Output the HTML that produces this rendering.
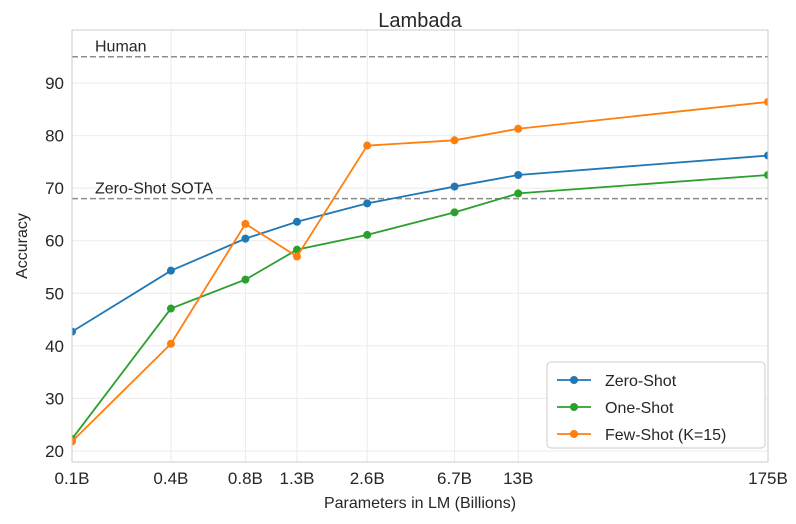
<!DOCTYPE html>
<html><head><meta charset="utf-8"><style>
body{margin:0;background:#fff;}
svg text{font-family:"Liberation Sans",Arial,sans-serif;fill:#262626;}
</style></head><body>
<svg id="chart" width="796" height="519" viewBox="0 0 796 519" xmlns="http://www.w3.org/2000/svg">
<defs><clipPath id="pc"><rect x="72" y="30" width="696" height="432"/></clipPath></defs>
<rect x="0" y="0" width="796" height="519" fill="#fff"/>
<g id="grid"></g>
<g id="refs"></g>
<g id="series" clip-path="url(#pc)"></g>
<g id="axes"></g>
<text x="420" y="27" font-size="20" text-anchor="middle">Lambada</text>
<text x="420" y="508" font-size="16" text-anchor="middle">Parameters in LM (Billions)</text>
<text x="27" y="246" font-size="16" text-anchor="middle" transform="rotate(-90 27 246)">Accuracy</text>
<g id="legend"></g>
</svg>
<script>
const params = [0.125, 0.35, 0.76, 1.3, 2.7, 6.7, 13, 175];
const tickLabels = ["0.1B","0.4B","0.8B","1.3B","2.6B","6.7B","13B","175B"];
const zeroShot = [42.7, 54.3, 60.4, 63.6, 67.1, 70.3, 72.5, 76.2];
const oneShot = [22.3, 47.1, 52.6, 58.3, 61.1, 65.4, 69.0, 72.5];
const fewShot = [21.8, 40.4, 63.2, 57.0, 78.1, 79.1, 81.3, 86.4];
const yTicks = [20,30,40,50,60,70,80,90];
const humanLevel = 95;
const sotaLevel = 68;

const NS="http://www.w3.org/2000/svg";
const L=72,R=768,T=30,B=462;
const lmin=Math.log10(params[0]),lmax=Math.log10(params[params.length-1]);
const xs=p=>L+(Math.log10(p)-lmin)/(lmax-lmin)*(R-L);
const ys=v=>451-(v-20)*(451-83)/70;
function mk(tag,attrs,parent,txt){const e=document.createElementNS(NS,tag);for(const k in attrs)e.setAttribute(k,attrs[k]);if(txt!=null)e.textContent=txt;parent.appendChild(e);return e;}
const grid=document.getElementById('grid'),axes=document.getElementById('axes'),refs=document.getElementById('refs'),ser=document.getElementById('series'),leg=document.getElementById('legend');
mk('rect',{x:L,y:T,width:R-L,height:B-T,fill:'#fff'},grid);
yTicks.forEach(v=>{
  const g=mk('line',{x1:L,x2:R,y1:ys(v),y2:ys(v),stroke:'#ebebeb','stroke-width':1},grid);
  
  
  const t=mk('text',{x:L-8,y:ys(v)+6,'font-size':17,'text-anchor':'end'},axes,String(v));
  
  
});
params.forEach((p,i)=>{
  const g=mk('line',{x1:xs(p),x2:xs(p),y1:T,y2:B,stroke:'#ebebeb','stroke-width':1},grid);
  
  
  const t=mk('text',{x:xs(p),y:B+22,'font-size':17,'text-anchor':'middle'},axes,tickLabels[i]);
  
  
});
const fr=mk('rect',{x:L,y:T,width:R-L,height:B-T,fill:'none',stroke:'#cccccc','stroke-width':1},axes);


[[humanLevel,'Human','human-line'],[sotaLevel,'Zero-Shot SOTA','sota-line']].forEach(([v,lab,n])=>{
  const l=mk('line',{x1:L,x2:R,y1:ys(v),y2:ys(v),stroke:'#8c8c8c','stroke-width':1.5,'stroke-dasharray':'6,3'},refs);
  
  
  const t=mk('text',{x:95,y:ys(v)-5,'font-size':16,fill:'#444'},refs,lab);
  
  
});
const series=[[zeroShot,'#1f77b4','Zero-Shot','zero-shot'],[oneShot,'#2ca02c','One-Shot','one-shot'],[fewShot,'#ff7f0e','Few-Shot (K=15)','few-shot']];
series.forEach(([vals,c,lab,n])=>{
  const pl=mk('polyline',{points:vals.map((v,i)=>xs(params[i])+','+ys(v)).join(' '),fill:'none',stroke:c,'stroke-width':1.8},ser);
  
  
  vals.forEach((v,i)=>{
    const ci=mk('circle',{cx:xs(params[i]),cy:ys(v),r:4,fill:c},ser);
    
    
  });
});
mk('rect',{x:547,y:362,width:218,height:86,rx:4,fill:'#fff',stroke:'#cccccc'},leg);
series.forEach(([vals,c,lab,n],k)=>{
  const y=380+k*27;
  const g=mk('g',{},leg);
  
  
  mk('line',{x1:557,x2:591,y1:y,y2:y,stroke:c,'stroke-width':1.8},g);
  mk('circle',{cx:574,cy:y,r:4,fill:c},g);
  mk('text',{x:605,y:y+6,'font-size':16},g,lab);
});
</script>
</body></html>
